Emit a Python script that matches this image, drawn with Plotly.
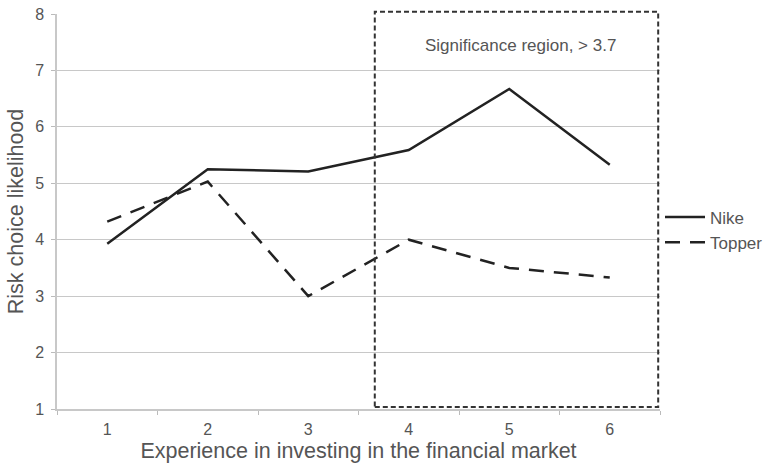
import plotly.graph_objects as go

categories = ["1", "2", "3", "4", "5", "6"]
nike = [3.93, 5.25, 5.21, 5.59, 6.67, 5.33]
topper = [4.32, 5.03, 3.0, 4.0, 3.5, 3.33]
y_ticks = [1, 2, 3, 4, 5, 6, 7, 8]
region_label = "Significance region, > 3.7"

FONT = "Liberation Sans, Arial, sans-serif"
GREY = "#555555"

fig = go.Figure()
fig.add_trace(go.Scatter(x=categories, y=nike, mode="lines", name="Nike",
                         line=dict(color="#222222", width=2.5)))
fig.add_trace(go.Scatter(x=categories, y=topper, mode="lines", name="Topper",
                         line=dict(color="#222222", width=2.5, dash="15px,10px")))

# significance region box (paper coordinates so it is not clipped)
fig.add_shape(type="rect", xref="paper", yref="paper", x0=0.527, x1=0.997, y0=0.005, y1=1.006,
              line=dict(color="#333333", width=2, dash="5px,3px"), fillcolor="rgba(0,0,0,0)",
              layer="above")
fig.add_annotation(x=0.768, y=0.92, xref="paper", yref="paper", text=region_label,
                   showarrow=False, xanchor="center", yanchor="middle",
                   font=dict(size=17, color=GREY, family=FONT))

fig.update_layout(
    width=766, height=463,
    margin=dict(l=57, r=106, t=14, b=54, autoexpand=False),
    paper_bgcolor="white", plot_bgcolor="white",
    font=dict(family=FONT, color=GREY),
    showlegend=True,
    legend=dict(x=1.0, y=0.453, xanchor="left", yanchor="middle",
                font=dict(size=17, color=GREY, family=FONT),
                bgcolor="rgba(0,0,0,0)", itemwidth=40, tracegroupgap=0),
    xaxis=dict(type="category", range=[-0.5, 5.5], tickson="boundaries",
               ticks="outside", ticklen=4, tickcolor="#bbbbbb",
               showline=True, linecolor="#c8c8c8", linewidth=1.5,
               showgrid=False, tickfont=dict(size=16, color=GREY), ticklabelstandoff=5,
               title=dict(text="Experience in investing in the financial market",
                          font=dict(size=21.5, color=GREY), standoff=15)),
    yaxis=dict(range=[1, 8], tickvals=y_ticks, ticks="outside", ticklen=4,
               tickcolor="#bbbbbb", showline=True, linecolor="#c8c8c8", linewidth=1.5,
               showgrid=True, gridcolor="#c8c8c8", gridwidth=1.2, zeroline=False,
               tickfont=dict(size=16, color=GREY), ticklabelstandoff=4,
               title=dict(text="Risk choice likelihood", font=dict(size=21.5, color=GREY),
                          standoff=6)),
)

fig.write_html("out.html")
